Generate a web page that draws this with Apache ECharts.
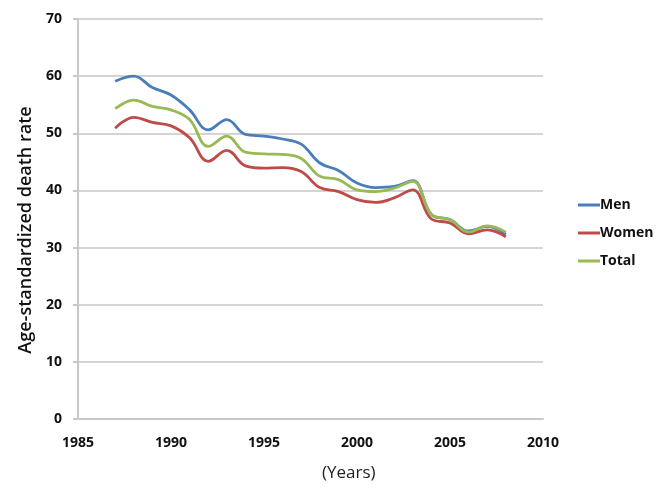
<!DOCTYPE html>
<html>
<head>
<meta charset="utf-8">
<script src="https://cdn.jsdelivr.net/npm/echarts@6/dist/echarts.min.js"></script>
<style>html,body{margin:0;padding:0;background:#fff;}#c{width:670px;height:492px;}</style>
</head>
<body>
<div id="c"></div>
<script>
var years = [1987,1988,1989,1990,1991,1992,1993,1994,1995,1996,1997,1998,1999,2000,2001,2002,2003,2004,2005,2006,2007,2008];
var men   = [59.1,60.0,58.0,56.7,54.1,50.6,52.4,49.8,49.5,49.0,48.1,44.8,43.5,41.3,40.5,40.7,41.7,35.8,34.9,32.9,33.7,32.3];
var women = [50.9,52.8,51.9,51.3,49.2,45.1,47.0,44.3,43.9,44.0,43.3,40.5,39.8,38.4,37.9,38.7,40.1,35.0,34.3,32.4,33.1,31.9];
var total = [54.3,55.8,54.7,54.1,52.4,47.7,49.5,46.7,46.4,46.3,45.6,42.5,41.9,40.1,39.8,40.4,41.6,35.8,34.9,32.7,33.8,32.7];
var yTicks = [0,10,20,30,40,50,60,70];
var xTicks = [1985,1990,1995,2000,2005,2010];
var xTitle = '(Years)';
var yTitle = 'Age-standardized death rate';

function pairs(v){ return years.map(function(y,i){ return [y, v[i]]; }); }
var font = 'Open Sans';
var chart = echarts.init(document.getElementById('c'));
function line(name, data, color){
  return {name:name, type:'line', data:pairs(data), smooth:0.4, symbol:'none',
    lineStyle:{color:color, width:2.8}, itemStyle:{color:color}};
}
chart.setOption({
  animation:false,
  textStyle:{fontFamily:font},
  grid:{left:78, right:127, top:19, bottom:73},
  legend:{orient:'vertical', left:573, top:192, itemGap:12, itemWidth:22, itemHeight:3, icon:'rect',
    textStyle:{fontFamily:font, fontSize:14, fontWeight:700, color:'#111', lineHeight:16, padding:[0,0,0,-5]},
    data:['Men','Women','Total']},
  graphic:[
    {type:'text', left:322, top:465, style:{text:xTitle, font:'17px "Open Sans"', fill:'#222'}},
    {type:'text', x:26, y:230, rotation:Math.PI/2, style:{text:yTitle, font:'600 18px "Open Sans"', fill:'#111', align:'center', verticalAlign:'middle'}}
  ],
  xAxis:{type:'value', min:xTicks[0], max:xTicks[xTicks.length-1], interval:5,
    axisLine:{show:true, lineStyle:{color:'#c8c8c8', width:2}},
    axisTick:{show:false}, splitLine:{show:false},
    axisLabel:{fontFamily:font, fontSize:14, fontWeight:700, color:'#111', margin:17,
      formatter:function(v){ return String(v); }}},
  yAxis:{type:'value', min:yTicks[0], max:yTicks[yTicks.length-1], interval:10,
    axisLine:{show:true, lineStyle:{color:'#c8c8c8', width:2}},
    axisTick:{show:true, inside:false, length:5, lineStyle:{color:'#c8c8c8', width:2}},
    splitLine:{show:true, lineStyle:{color:'#d4d4d4', width:2}},
    axisLabel:{fontFamily:font, fontSize:14, fontWeight:700, color:'#111', margin:16}},
  series:[line('Men', men, '#4a7ebb'), line('Women', women, '#be4b48'), line('Total', total, '#98b954')]
});
</script>
</body>
</html>
